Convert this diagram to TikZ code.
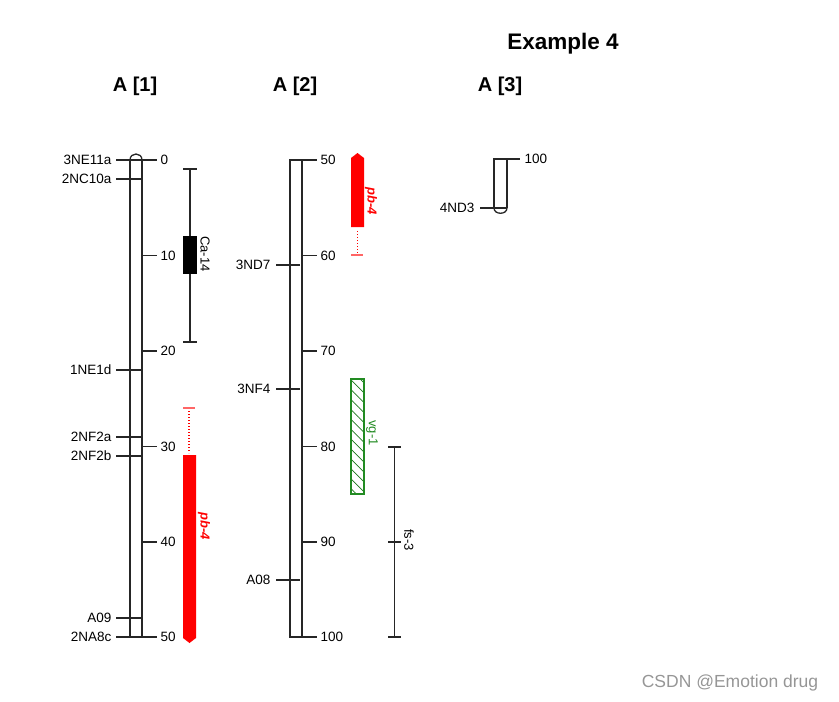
\documentclass[tikz,border=0pt]{standalone}
\usepackage{fontspec}
\setmainfont{Liberation Sans}
\usetikzlibrary{patterns.meta}
\definecolor{lg}{RGB}{34,139,34}
\definecolor{wm}{RGB}{150,150,150}
\begin{document}
\begin{tikzpicture}[x=1pt,y=-1pt,line width=1.3pt,
  lbl/.style={font=\fontsize{13.5}{15}\selectfont,inner sep=0pt},
  mkl/.style={lbl,anchor=east},
  tkl/.style={lbl,anchor=west},
  ttl/.style={font=\bfseries\fontsize{20}{23}\selectfont,inner sep=0pt},
  qtl/.style={font=\fontsize{13}{15}\selectfont,inner sep=0pt,rotate=-90},
  chrom/.style={draw=black!85,line width=1.3pt},
  reddot/.style={draw=red,line width=1.2pt,dash pattern=on 1pt off 2pt}]
\useasboundingbox (0,0) rectangle (839,702);

% titles
\node[ttl,font=\bfseries\fontsize{22.5}{26}\selectfont] (title) at (563,44) {Example 4};
\node[ttl] (t1) at (135,86) {A [1]};
\node[ttl] (t2) at (295,86) {A [2]};
\node[ttl] (t3) at (500,86) {A [3]};

% ===== A[1] =====
\draw[chrom] (130,160) -- (130,637) -- (142,637) -- (142,160);
\draw[chrom] (130,160) .. controls (130,152) and (142,152) .. (142,160);
\foreach \y/\t in {160/0,255.5/10,351/20,446.5/30,542/40,637/50}{
  \draw[chrom] (142,\y) -- (157,\y);
  \node[tkl] at (160,\y) {\t};
}
\foreach \y/\m in {160/3NE11a,179/2NC10a,370/1NE1d,437/2NF2a,456/2NF2b,618/A09,637/2NA8c}{
  \draw[chrom] (116,\y) -- (142,\y);
  \node[mkl] at (112,\y) {\m};
}
% Ca-14
\draw[chrom] (190,169) -- (190,342);
\draw[chrom] (183,169) -- (197,169);
\draw[chrom] (183,342) -- (197,342);
\fill[black] (183,236) rectangle (197,274);
\node[qtl] (ca14) at (205,254) {Ca-14};
% pb-4 (A1)
\draw[draw=red!60,line width=1.3pt] (183,408) -- (195,408);
\draw[reddot] (189,411) -- (189,453);
\fill[red] (183,455) -- (196,455) -- (196,638) -- (189.5,643) -- (183,638) -- cycle;
\node[qtl,text=red,font=\bfseries\itshape\fontsize{13}{15}\selectfont] (pb1) at (204,526) {pb-4};

% ===== A[2] =====
\draw[chrom] (302,160) -- (290,160) -- (290,637) -- (302,637);
\draw[chrom] (302,160) -- (302,637);
\foreach \y/\t in {160/50,255.5/60,351/70,446.5/80,542/90,637/100}{
  \draw[chrom] (302,\y) -- (317,\y);
  \node[tkl] at (320,\y) {\t};
}
\foreach \y/\m in {265/3ND7,389/3NF4,580/A08}{
  \draw[chrom] (276,\y) -- (300,\y);
  \node[mkl] at (271,\y) {\m};
}
% pb-4 (A2)
\fill[red] (351,227) -- (351,158) -- (357.5,153) -- (364,158) -- (364,227) -- cycle;
\draw[reddot] (357.5,231) -- (357.5,253);
\draw[draw=red!60,line width=1.3pt] (351,255) -- (363,255);
\node[qtl,text=red,font=\bfseries\itshape\fontsize{13}{15}\selectfont] (pb2) at (371,201) {pb-4};
% vg-1
\fill[pattern={Lines[angle=-45,distance=7pt,line width=0.7pt]},pattern color=lg!85!black] (351,379) rectangle (364,494);
\draw[lg,line width=1.3pt] (351,379) rectangle (364,494);
\node[qtl,text=lg] (vg1) at (372,433) {vg-1};
% fs-3
\draw[chrom] (394.5,447) -- (394.5,637);
\draw[chrom] (388,447) -- (401,447);
\draw[chrom] (388,542) -- (401,542);
\draw[chrom] (388,637) -- (401,637);
\node[qtl] (fs3) at (409,540) {fs-3};

% ===== A[3] =====
\draw[chrom] (494,208) -- (494,159) -- (507,159) -- (507,208);
\draw[chrom] (494,208) .. controls (494,215) and (507,215) .. (507,208);
\draw[chrom] (507,159) -- (520,159);
\node[tkl] at (524,159) {100};
\draw[chrom] (480,208) -- (507,208);
\node[mkl] at (475,208) {4ND3};

% watermark
\node[text=wm,font=\fontsize{17.5}{20}\selectfont,inner sep=0pt] (wmk) at (730,683) {CSDN @Emotion drug};
\end{tikzpicture}
\end{document}
